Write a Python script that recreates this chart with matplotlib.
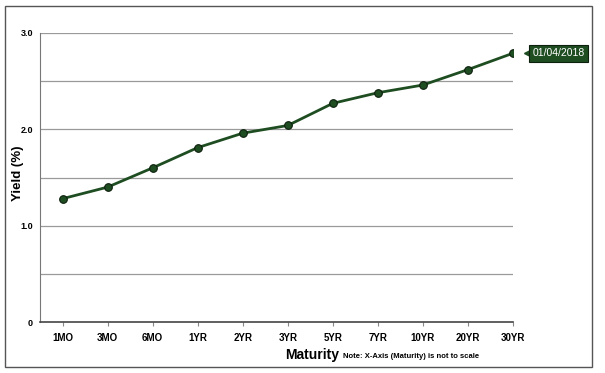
import matplotlib.pyplot as plt
import matplotlib.transforms as mtransforms
from matplotlib.patches import Rectangle

maturities = ["1MO", "3MO", "6MO", "1YR", "2YR", "3YR", "5YR", "7YR", "10YR", "20YR", "30YR"]
yields = [1.28, 1.40, 1.60, 1.81, 1.96, 2.04, 2.27, 2.38, 2.46, 2.62, 2.79]
date_label = "01/04/2018"

green = "#1f4d22"

fig = plt.figure(figsize=(6.05, 3.73), dpi=100)
plt.rcParams['font.family'] = ['Liberation Sans', 'DejaVu Sans']

# outer frame
fig.patches.append(Rectangle((5 / 605, 6 / 373), 587 / 605, 361 / 373, transform=fig.transFigure,
                             fill=False, edgecolor="#555555", linewidth=1.0))

ax = fig.add_axes([40 / 605, 1 - 322 / 373, 473 / 605, 289 / 373])
x = list(range(len(maturities)))
ax.plot(x, yields, color=green, linewidth=2, marker="o", markersize=5.5,
        markerfacecolor=green, markeredgecolor="#0d1f0d", markeredgewidth=0.8, zorder=3)

ax.set_xlim(-0.5, len(maturities) - 1)
ax.set_ylim(0, 3.0)
ax.set_yticks([0, 1.0, 2.0, 3.0])
ax.set_yticklabels(["0", "1.0", "2.0", "3.0"], fontsize=6.5, fontweight="bold")
ax.set_yticks([0.5, 1.5, 2.5], minor=True)
ax.tick_params(axis="y", which="both", length=0, pad=5)
for v in [0.5, 1.0, 1.5, 2.0, 2.5, 3.0]:
    ax.axhline(v, color="#9a9a9a", linewidth=0.9, zorder=1)

ax.set_xticks(x)
ax.set_xticklabels(maturities, fontsize=7, fontweight="bold")
ax.tick_params(axis="x", length=3, color="#888888", pad=5)

for s in ["top", "right"]:
    ax.spines[s].set_visible(False)
ax.spines["left"].set_color("#777777")
ax.spines["bottom"].set_color("#444444")
ax.spines["bottom"].set_linewidth(1.2)

fig.text(18 / 605, 1 - 173 / 373, "Yield (%)", fontsize=9.5, fontweight="bold",
         rotation=90, ha="center", va="center")
fig.text(312 / 605, 1 - 355 / 373, "Maturity", fontsize=10, fontweight="bold",
         ha="center", va="center")
fig.text(343 / 605, 1 - 357 / 373, "Note: X-Axis (Maturity) is not to scale", fontsize=5.5,
         fontweight="bold", ha="left", va="center")

# end label with pointer
ax.annotate(date_label, xy=(x[-1], yields[-1]), xytext=(14, 0), textcoords="offset points",
            ha="left", va="center", color="white", fontsize=7.5,
            bbox=dict(boxstyle="square,pad=0.35", facecolor=green, edgecolor="#0d1f0d", linewidth=0.8),
            annotation_clip=False)
tr = mtransforms.offset_copy(ax.transData, fig=fig, x=10, y=0, units="points")
ax.plot([x[-1]], [yields[-1]], marker="<", markersize=5, color=green, transform=tr, clip_on=False)

fig.savefig("out.png", dpi=100)
